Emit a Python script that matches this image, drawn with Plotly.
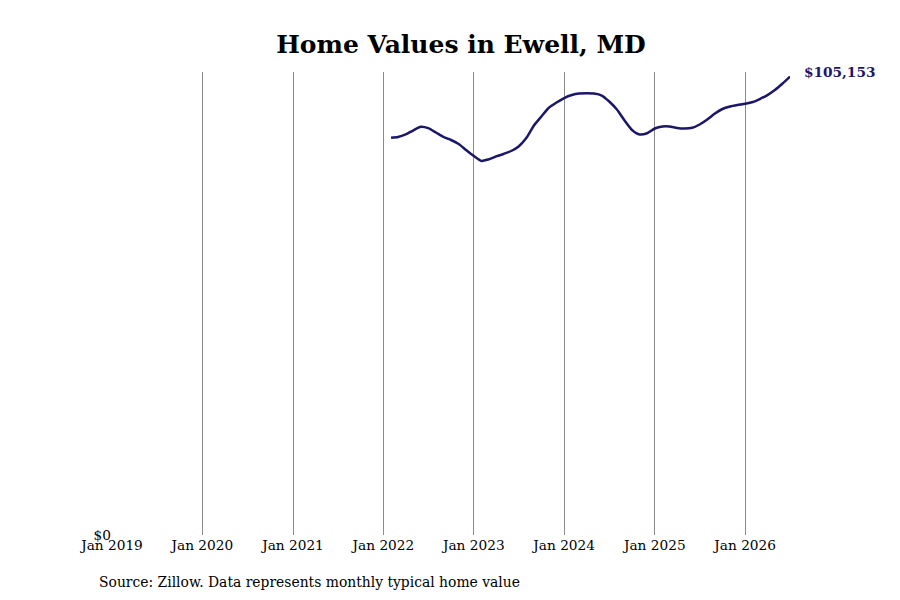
import plotly.graph_objects as go
import pandas as pd

# monthly typical home value, Feb 2022 - Jul 2026
months = pd.date_range("2022-02-01", "2026-07-01", freq="MS")
values = [
    91110, 91290, 91870, 92780, 93630, 93310, 92320, 91290, 90600, 89690, 88310,
    86940, 85790, 86140, 86830, 87400, 88080, 89120, 91060, 93930, 95990, 98050, 99200,
    100230, 100910, 101260, 101330, 101260, 100800, 99430, 97590, 95070, 92900, 91870, 92160,
    93240, 93700, 93700, 93360, 93240, 93400, 94160, 95300, 96680, 97710, 98280, 98620,
    98900, 99310, 100000, 100910, 102060, 103550, 105153,
]
last_label = "$105,153"

navy = "#1b1668"
serif = "DejaVu Serif"

# page body has an 8px margin, so the figure is a bit smaller than the window
W, H = 884, 584
L, R, T, B = 104, 102, 64, 57

fig = go.Figure()
fig.add_trace(go.Scatter(
    x=months, y=values, mode="lines",
    line=dict(color=navy, width=2.5, shape="spline", smoothing=0.6),
    hoverinfo="skip", showlegend=False,
))

fig.add_annotation(
    x=months[-1], y=values[-1], text="<b>" + last_label + "</b>",
    showarrow=False, xanchor="left", yanchor="middle", xshift=12, yshift=5,
    font=dict(family=serif, size=13.7, color=navy),
)

# source note under the axis (x in paper coords of the plot area)
fig.add_annotation(
    x=(89 - L) / (W - L - R), y=-0.1015, xref="paper", yref="paper",
    xanchor="left", yanchor="middle", showarrow=False,
    text="Source: Zillow. Data represents monthly typical home value",
    font=dict(family=serif, size=13.9, color="black"),
)

fig.update_layout(
    width=W, height=H,
    margin=dict(l=L, r=R, t=T, b=B),
    plot_bgcolor="white", paper_bgcolor="white",
    font=dict(family=serif, size=13.7, color="black"),
    title=dict(
        text="<b>Home Values in Ewell, MD</b>",
        x=453 / W, xanchor="center", y=1 - 36 / H, yanchor="middle",
        font=dict(family=serif, size=25, color="black"),
    ),
    xaxis=dict(
        range=["2019-01-01", "2026-07-01"],
        tickformat="%b %Y", dtick="M12", tick0="2019-01-01",
        showgrid=True, gridcolor="#8c8c8c", gridwidth=1,
        showline=False, zeroline=False, ticks="",
        tickfont=dict(family=serif, size=13.7),
    ),
    yaxis=dict(
        range=[0, 106200],
        tickvals=[0], ticktext=["$0"],
        showgrid=False, zeroline=False, showline=False, ticks="",
        tickfont=dict(family=serif, size=13.7),
    ),
)

fig.write_html("out.html")
